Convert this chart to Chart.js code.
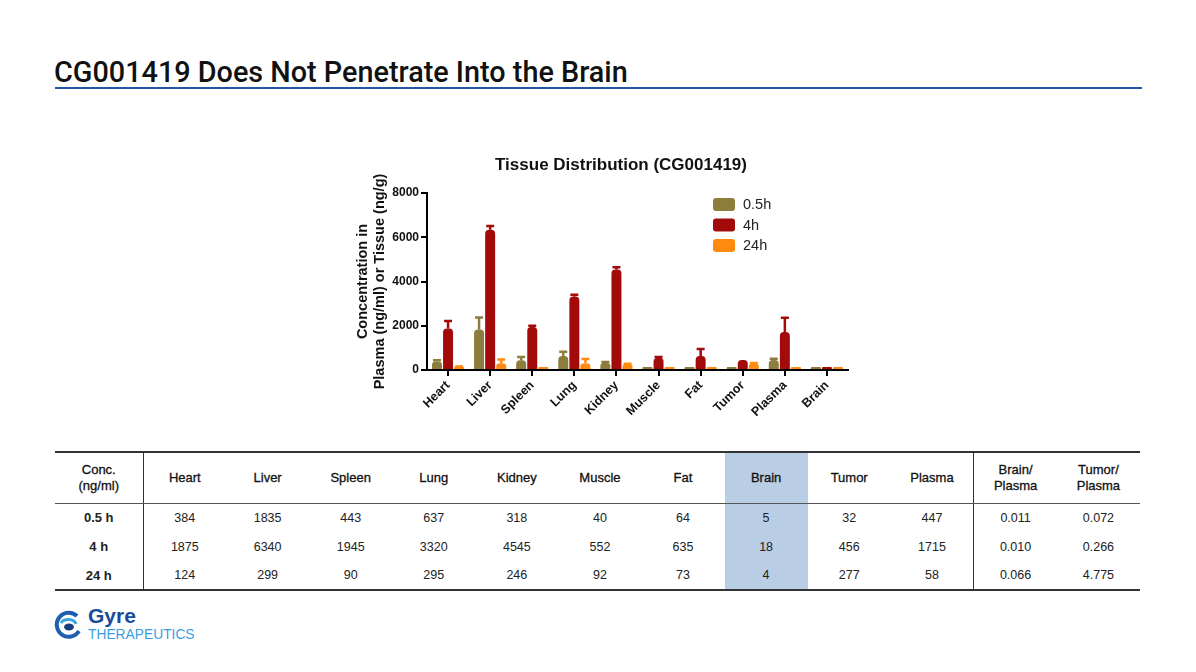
<!DOCTYPE html>
<html>
<head>
<meta charset="utf-8">
<script src="https://cdn.jsdelivr.net/npm/chart.js@4.4.1/dist/chart.umd.min.js"></script>
<style>
  body { margin: 0; width: 1196px; height: 672px; background: #fff; position: relative; overflow: hidden;
         font-family: "Liberation Sans", Arial, sans-serif; color: #111; }
  #pageTitle { position: absolute; left: 54px; top: 55px; margin: 0; font-size: 28.8px; line-height: 34px; font-weight: 500; color: #111;
               font-family: Roboto, "Liberation Sans", Arial, sans-serif; }
  #rule { position: absolute; left: 55px; top: 87px; width: 1087px; height: 2px; background: #2356a8; }
  #chartBox { position: absolute; left: 350px; top: 145px; width: 510px; height: 290px; }
  #dataTable { position: absolute; left: 55px; top: 451px; width: 1085px; border-collapse: collapse; table-layout: fixed;
               font-size: 12.5px; color: #222; }
  #dataTable th, #dataTable td { text-align: center; padding: 0; }
  #dataTable thead tr { height: 51px; }
  #dataTable thead th { font-weight: normal; font-size: 13px; color: #111; -webkit-text-stroke: 0.3px #111;
                        border-top: 2px solid #333; border-bottom: 1.5px solid #555; line-height: 16px; }
  #dataTable tbody tr { height: 29px; }
  #dataTable tbody tr:last-child td, #dataTable tbody tr:last-child th { border-bottom: 2px solid #333; }
  #dataTable tbody th { font-weight: bold; font-size: 13px; }
  #dataTable .first { border-right: 1px solid #333; }
  #dataTable .split { border-right: 1px solid #333; }
  #dataTable .hl { background: #b9cde5; }
  #logo { position: absolute; left: 53px; top: 609px; }
  #logoText1 { position: absolute; left: 88px; top: 604px; font-size: 21px; font-weight: bold; color: #1a4a9a; }
  #logoText2 { position: absolute; left: 88px; top: 627px; font-size: 13.8px; color: #3a9fe0; }
</style>
</head>
<body>
<h1 id="pageTitle">CG001419 Does Not Penetrate Into the Brain</h1>
<div id="rule"></div>
<div id="chartBox"><canvas id="myChart" width="510" height="290"></canvas></div>
<table id="dataTable"></table>
<svg id="logo" width="30" height="32" viewBox="0 0 30 32">
  <path d="M24 7 A12 12 0 1 0 26 22" fill="none" stroke="#1f5fb0" stroke-width="4"/>
  <path d="M8 14 A8 6 0 0 1 23 15" fill="none" stroke="#3aa6e0" stroke-width="3"/>
  <ellipse cx="16" cy="18" rx="5" ry="3.5" fill="#1a3f80"/>
</svg>
<div id="logoText1">Gyre</div>
<div id="logoText2">THERAPEUTICS</div>
<script>
// chart categories (in chart order)
const tissues = ["Heart", "Liver", "Spleen", "Lung", "Kidney", "Muscle", "Fat", "Tumor", "Plasma", "Brain"];
const timeLabels = ["0.5h", "4h", "24h"];
const rowLabels = ["0.5 h", "4 h", "24 h"];

// mean concentrations (ng/ml or ng/g)
const conc05 = [384, 1835, 443, 637, 318, 40, 64, 32, 447, 5];
const conc4 = [1875, 6340, 1945, 3320, 4545, 552, 635, 456, 1715, 18];
const conc24 = [124, 299, 90, 295, 246, 92, 73, 277, 58, 4];

// error bars
const sd05 = [60, 540, 150, 190, 40, 0, 0, 0, 60, 0];
const sd4 = [340, 170, 60, 80, 100, 40, 310, 0, 650, 0];
const sd24 = [30, 170, 0, 200, 40, 0, 0, 40, 0, 0];

const yTicks = [0, 2000, 4000, 6000, 8000];

// table
const tableTissues = ["Heart", "Liver", "Spleen", "Lung", "Kidney", "Muscle", "Fat", "Brain", "Tumor", "Plasma"];
const brainPlasma = ["0.011", "0.010", "0.066"];
const tumorPlasma = ["0.072", "0.266", "4.775"];

const colors = ["#8c7d3c", "#a30a0a", "#ff8a10"];

// build the table from the same arrays
(function () {
    const table = document.getElementById("dataTable");
    const seriesVals = [conc05, conc4, conc24];
    let html = '<colgroup><col style="width:88px">';
    for (let i = 0; i < 12; i++) html += '<col>';
    html += '</colgroup><thead><tr><th class="first">Conc.<br>(ng/ml)</th>';
    tableTissues.forEach(function (t, i) {
        const cls = (t === "Brain" ? "hl" : "") + (i === tableTissues.length - 1 ? " split" : "");
        html += '<th class="' + cls + '">' + t + '</th>';
    });
    html += '<th>Brain/<br>Plasma</th><th>Tumor/<br>Plasma</th></tr></thead><tbody>';
    rowLabels.forEach(function (r, ri) {
        html += '<tr><th class="first">' + r + '</th>';
        tableTissues.forEach(function (t, i) {
            const cls = (t === "Brain" ? "hl" : "") + (i === tableTissues.length - 1 ? " split" : "");
            html += '<td class="' + cls + '">' + seriesVals[ri][tissues.indexOf(t)] + '</td>';
        });
        html += '<td>' + brainPlasma[ri] + '</td><td>' + tumorPlasma[ri] + '</td></tr>';
    });
    html += '</tbody>';
    table.innerHTML = html;
})();

const errorBars = {
    id: "errorBars",
    afterDatasetsDraw(chart) {
        const ctx = chart.ctx;
        const y = chart.scales.y;
        chart.data.datasets.forEach(function (ds, di) {
            const meta = chart.getDatasetMeta(di);
            meta.data.forEach(function (bar, i) {
                const sd = ds.errors[i];
                if (!sd) return;
                const top = y.getPixelForValue(ds.data[i] + sd);
                ctx.save();
                ctx.strokeStyle = ds.backgroundColor;
                ctx.lineWidth = 2.5;
                ctx.beginPath();
                ctx.moveTo(bar.x, bar.y);
                ctx.lineTo(bar.x, top);
                ctx.moveTo(bar.x - 4, top);
                ctx.lineTo(bar.x + 4, top);
                ctx.stroke();
                ctx.restore();
            });
        });
    }
};

const titleAndLegend = {
    id: "titleAndLegend",
    afterDraw(chart) {
        const ctx = chart.ctx;
        const area = chart.chartArea;
        ctx.save();
        ctx.fillStyle = "#111";
        ctx.font = "bold 17px 'Liberation Sans', Arial";
        ctx.textAlign = "center";
        ctx.textBaseline = "middle";
        ctx.fillText("Tissue Distribution (CG001419)", 271, 20);
        ctx.textAlign = "left";
        ctx.font = "14.5px 'Liberation Sans', Arial";
        chart.data.datasets.forEach(function (ds, i) {
            const bx = area.left + 286;
            const by = area.top + 5 + i * 20.5;
            ctx.fillStyle = ds.backgroundColor;
            ctx.beginPath();
            ctx.roundRect(bx, by, 22, 13, 3);
            ctx.fill();
            ctx.fillStyle = "#222";
            ctx.fillText(ds.label, bx + 30, by + 7);
        });
        ctx.restore();
    }
};

Chart.defaults.font.family = "'Liberation Sans', Arial, sans-serif";
Chart.defaults.color = "#111";

const ctx = document.getElementById("myChart").getContext("2d");
new Chart(ctx, {
    type: "bar",
    data: {
        labels: tissues,
        datasets: [
            { label: timeLabels[0], data: conc05, errors: sd05, backgroundColor: colors[0] },
            { label: timeLabels[1], data: conc4, errors: sd4, backgroundColor: colors[1] },
            { label: timeLabels[2], data: conc24, errors: sd24, backgroundColor: colors[2] },
        ],
    },
    options: {
        responsive: false,
        animation: false,
        categoryPercentage: 0.79,
        barPercentage: 0.9,
        borderRadius: 4,
        borderSkipped: "bottom",
        minBarLength: 3,
        layout: { padding: { top: 48, right: 12, bottom: 0, left: 0 } },
        scales: {
            x: {
                grid: { drawOnChartArea: false, offset: false, color: "#000", lineWidth: 2, tickLength: 6 },
                border: { color: "#000", width: 2 },
                ticks: { maxRotation: 45, minRotation: 45, padding: 2, font: { size: 12.5, weight: "bold" }, color: "#111" },
                afterFit: function (scale) { scale.height = 65; },
            },
            y: {
                min: 0,
                max: 8000,
                afterBuildTicks: function (scale) { scale.ticks = yTicks.map(function (v) { return { value: v }; }); },
                grid: { drawOnChartArea: false, color: "#000", lineWidth: 2, tickLength: 6 },
                border: { color: "#000", width: 2 },
                ticks: {
                    padding: 2,
                    font: { size: 12, weight: "bold" },
                    color: "#111",
                    callback: function (value) { return String(value); },
                },
                title: {
                    display: true,
                    text: ["Concentration in", "Plasma (ng/ml) or Tissue (ng/g)"],
                    font: { size: 14.5, weight: "bold" },
                    color: "#111",
                    padding: { top: 4, bottom: 2 },
                },
                afterFit: function (scale) { scale.width = 77; },
            },
        },
        plugins: {
            legend: { display: false },
            tooltip: { enabled: false },
        },
    },
    plugins: [errorBars, titleAndLegend],
});
</script>
</body>
</html>
